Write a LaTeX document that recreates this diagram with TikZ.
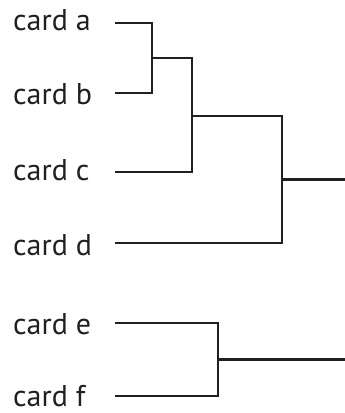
\documentclass[tikz,border=0pt]{standalone}
\usepackage{fontspec}
\setmainfont{PT Sans}
\definecolor{ink}{HTML}{231F20}
\begin{document}
\begin{tikzpicture}[x=1pt,y=-1pt,
  lbl/.style={anchor=base west,inner sep=0pt,text=ink,font=\fontsize{30}{36}\selectfont},
  branch/.style={draw=ink,line width=2.8pt,line cap=butt,line join=miter}]
\useasboundingbox (0,0) rectangle (345,413);
% labels
\node[lbl] (ta) at (13,30) {card a};
\node[lbl] (tb) at (13,104) {card b};
\node[lbl] (tc) at (13,180) {card c};
\node[lbl] (td) at (13,255) {card d};
\node[lbl] (te) at (13,334) {card e};
\node[lbl] (tf) at (13,406) {card f};
% leaf ends
\coordinate (a) at (115,23);
\coordinate (b) at (115,93);
\coordinate (c) at (115,172);
\coordinate (d) at (115,243);
\coordinate (e) at (115,323);
\coordinate (f) at (115,396);
% joins
\coordinate (n1) at (152,58);
\coordinate (n2) at (192,116);
\coordinate (n3) at (282,179.5);
\coordinate (n4) at (218,359.5);
\coordinate (r1) at (345,179.5);
\coordinate (r2) at (345,359.5);
\draw[branch] (a) -| (n1) |- (b);
\draw[branch] (n1) -| (n2) |- (c);
\draw[branch] (n2) -| (n3) |- (d);
\draw[branch] (n3) -- (r1);
\draw[branch] (e) -| (n4) |- (f);
\draw[branch] (n4) -- (r2);
\end{tikzpicture}
\end{document}
